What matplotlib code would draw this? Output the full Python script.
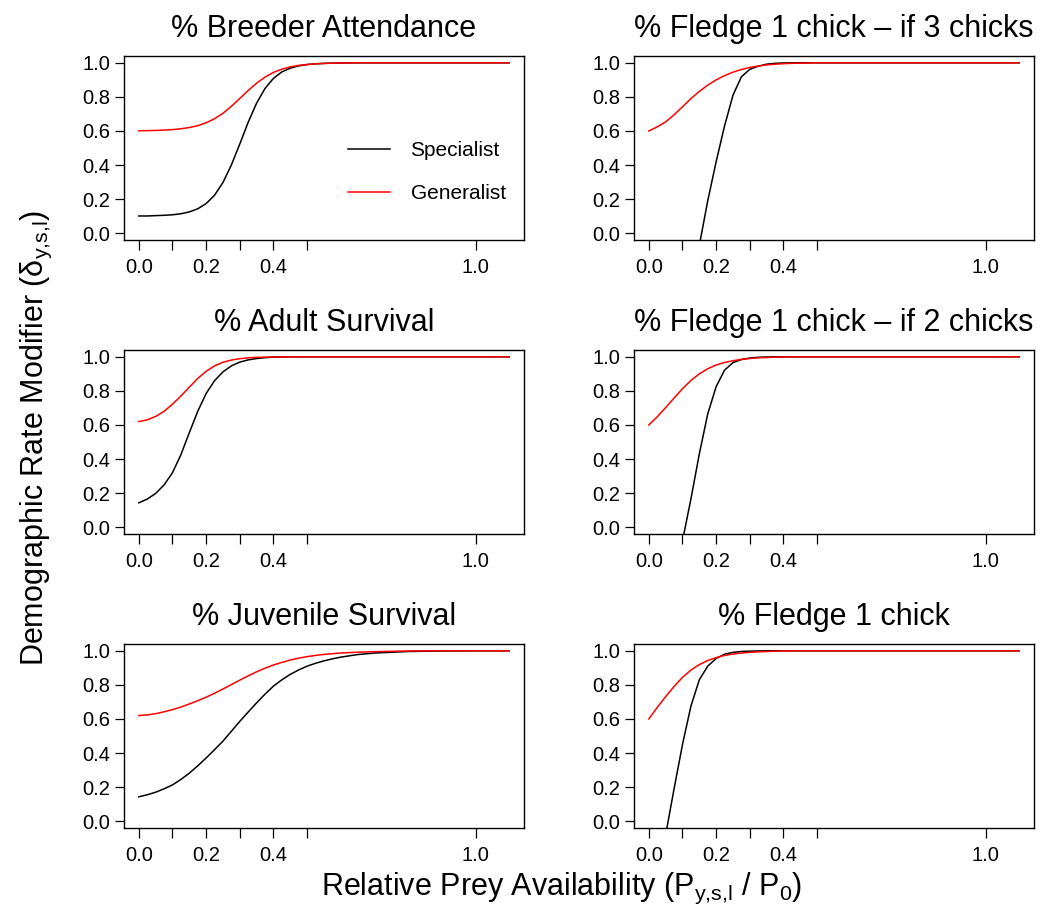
import numpy as np
import matplotlib
matplotlib.use("Agg")
import matplotlib.pyplot as plt

plt.rcParams["font.family"] = ["Liberation Sans", "DejaVu Sans"]
plt.rcParams["mathtext.default"] = "regular"

# relative prey availability grid (P / P0)
prey = [0.0, 0.025, 0.05, 0.075, 0.1, 0.125, 0.15, 0.175, 0.2, 0.225,
        0.25, 0.275, 0.3, 0.325, 0.35, 0.375, 0.4, 0.425, 0.45, 0.475,
        0.5, 0.525, 0.55, 0.575, 0.6, 0.65, 0.7, 0.8, 0.9, 1.0, 1.1]

nan = np.nan

# breeder attendance
attend_spec = [0.101, 0.101, 0.103, 0.105, 0.108, 0.114, 0.125, 0.143, 0.174, 0.223,
               0.298, 0.401, 0.524, 0.652, 0.764, 0.850, 0.909, 0.947, 0.969, 0.982,
               0.990, 0.994, 0.997, 0.998, 0.999, 1.0, 1.0, 1.0, 1.0, 1.0, 1.0]
attend_gen = [0.601, 0.602, 0.603, 0.605, 0.608, 0.613, 0.620, 0.631, 0.648, 0.672,
              0.704, 0.745, 0.791, 0.838, 0.881, 0.916, 0.944, 0.963, 0.976, 0.985,
              0.990, 0.994, 0.996, 0.998, 0.999, 1.0, 1.0, 1.0, 1.0, 1.0, 1.0]

# fledge 1 chick, if 3 chicks
fledge3_spec = [nan, nan, nan, nan, nan, nan, -0.072, 0.19, 0.42, 0.63,
                0.81, 0.918, 0.962, 0.98, 0.992, 0.997, 0.999, 1.0, 1.0, 1.0,
                1.0, 1.0, 1.0, 1.0, 1.0, 1.0, 1.0, 1.0, 1.0, 1.0, 1.0]
fledge3_gen = [0.600, 0.624, 0.653, 0.695, 0.742, 0.790, 0.832, 0.869, 0.900, 0.925,
               0.945, 0.961, 0.973, 0.981, 0.988, 0.992, 0.995, 0.997, 0.998, 0.999,
               1.0, 1.0, 1.0, 1.0, 1.0, 1.0, 1.0, 1.0, 1.0, 1.0, 1.0]

# adult survival
adult_spec = [0.143, 0.165, 0.198, 0.248, 0.320, 0.425, 0.555, 0.680, 0.785, 0.860,
              0.912, 0.947, 0.969, 0.982, 0.990, 0.995, 0.998, 0.999, 1.0, 1.0,
              1.0, 1.0, 1.0, 1.0, 1.0, 1.0, 1.0, 1.0, 1.0, 1.0, 1.0]
adult_gen = [0.620, 0.630, 0.650, 0.680, 0.722, 0.770, 0.822, 0.873, 0.915, 0.947,
             0.968, 0.981, 0.989, 0.994, 0.997, 0.998, 0.999, 1.0, 1.0, 1.0,
             1.0, 1.0, 1.0, 1.0, 1.0, 1.0, 1.0, 1.0, 1.0, 1.0, 1.0]

# fledge 1 chick, if 2 chicks
fledge2_spec = [nan, nan, nan, nan, -0.08, 0.165, 0.43, 0.665, 0.825, 0.922,
                0.966, 0.984, 0.993, 0.997, 0.999, 1.0, 1.0, 1.0, 1.0, 1.0,
                1.0, 1.0, 1.0, 1.0, 1.0, 1.0, 1.0, 1.0, 1.0, 1.0, 1.0]
fledge2_gen = [0.600, 0.648, 0.702, 0.758, 0.813, 0.861, 0.900, 0.930, 0.952, 0.967,
               0.977, 0.985, 0.990, 0.994, 0.996, 0.998, 0.999, 1.0, 1.0, 1.0,
               1.0, 1.0, 1.0, 1.0, 1.0, 1.0, 1.0, 1.0, 1.0, 1.0, 1.0]

# juvenile survival
juv_spec = [0.143, 0.155, 0.170, 0.190, 0.213, 0.245, 0.282, 0.325, 0.371, 0.420,
            0.470, 0.528, 0.586, 0.641, 0.695, 0.746, 0.793, 0.830, 0.862, 0.888,
            0.910, 0.927, 0.941, 0.953, 0.963, 0.978, 0.987, 0.996, 0.999, 1.0, 1.0]
juv_gen = [0.620, 0.624, 0.631, 0.642, 0.655, 0.670, 0.688, 0.707, 0.728, 0.751,
           0.776, 0.802, 0.828, 0.853, 0.877, 0.898, 0.917, 0.932, 0.946, 0.957,
           0.966, 0.973, 0.979, 0.983, 0.987, 0.992, 0.995, 0.999, 1.0, 1.0, 1.0]

# fledge 1 chick
fledge1_spec = [nan, nan, -0.08, 0.19, 0.45, 0.675, 0.83, 0.91, 0.955, 0.98,
                0.991, 0.996, 0.998, 0.999, 1.0, 1.0, 1.0, 1.0, 1.0, 1.0,
                1.0, 1.0, 1.0, 1.0, 1.0, 1.0, 1.0, 1.0, 1.0, 1.0, 1.0]
fledge1_gen = [0.600, 0.668, 0.731, 0.791, 0.844, 0.887, 0.919, 0.943, 0.960, 0.973,
               0.981, 0.987, 0.991, 0.994, 0.996, 0.998, 0.999, 1.0, 1.0, 1.0,
               1.0, 1.0, 1.0, 1.0, 1.0, 1.0, 1.0, 1.0, 1.0, 1.0, 1.0]

titles = ["% Breeder Attendance", "% Fledge 1 chick \u2013 if 3 chicks",
          "% Adult Survival", "% Fledge 1 chick \u2013 if 2 chicks",
          "% Juvenile Survival", "% Fledge 1 chick"]
specialist = [attend_spec, fledge3_spec, adult_spec, fledge2_spec, juv_spec, fledge1_spec]
generalist = [attend_gen, fledge3_gen, adult_gen, fledge2_gen, juv_gen, fledge1_gen]

xticks = [0.0, 0.1, 0.2, 0.3, 0.4, 0.5, 1.0]
xticklabels = ["0.0", "", "0.2", "", "0.4", "", "1.0"]
yticks = [0.0, 0.2, 0.4, 0.6, 0.8, 1.0]

W, H = 1040, 916
fig = plt.figure(figsize=(W / 100, H / 100), dpi=100)

col_left = [124, 634]
row_top = [56, 350, 644]
box_w, box_h = 400, 184

for i in range(6):
    r, c = divmod(i, 2)
    ax = fig.add_axes([col_left[c] / W, 1 - (row_top[r] + box_h) / H, box_w / W, box_h / H])
    ax.plot(prey, specialist[i], color="black", lw=1.1, label="Specialist")
    ax.plot(prey, generalist[i], color="red", lw=1.1, label="Generalist")
    ax.set_xlim(-0.044, 1.144)
    ax.set_ylim(-0.04, 1.04)
    ax.set_xticks(xticks)
    ax.set_xticklabels(xticklabels)
    ax.set_yticks(yticks)
    ax.set_yticklabels([f"{v:.1f}" for v in yticks])
    ax.tick_params(axis="x", length=7.2, width=0.9, labelsize=14.5, pad=5.5)
    ax.tick_params(axis="y", length=6.5, width=0.9, labelsize=14.5, pad=3.5)
    for s in ax.spines.values():
        s.set_linewidth(1.0)
    ax.set_title(titles[i], fontsize=22, pad=14)

    if i == 0:
        ax.legend(loc="center left", bbox_to_anchor=(0.56, 0.367), frameon=False,
                  fontsize=15, handlelength=2.0, handletextpad=1.0,
                  labelspacing=1.15, borderpad=0, borderaxespad=0)

fig.text(0.035, 0.522, r"Demographic Rate Modifier ($\delta_{y{,}s{,}l}$)",
         rotation=90, ha="center", va="center", fontsize=22)
fig.text(0.54, 0.03, r"Relative Prey Availability ($P_{y{,}s{,}l}$ / $P_0$)",
         ha="center", va="center", fontsize=22)

fig.savefig("out.png", dpi=100, facecolor="white")
